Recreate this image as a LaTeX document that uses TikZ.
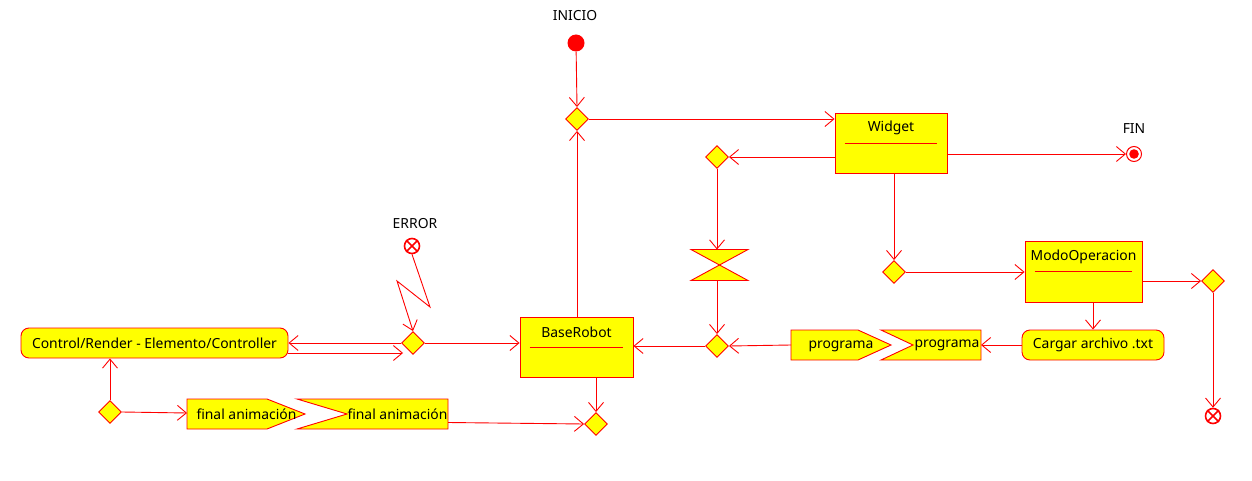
\documentclass[tikz,border=0pt]{standalone}
\usepackage{fontspec}
\setmainfont{Noto Sans}
\usetikzlibrary{arrows.meta,shapes.geometric,calc}
\definecolor{yel}{RGB}{255,255,0}
\definecolor{rd}{RGB}{255,0,0}
\begin{document}
\begin{tikzpicture}[x=1pt,y=-1pt,
 line/.style={draw=rd,line width=0.9pt},
 arr/.style={line,-{Straight Barb[length=9pt,width=15pt,line width=0.9pt]}},
 dia/.style={diamond,draw=rd,fill=yel,line width=0.9pt,minimum size=23pt,inner sep=0pt},
 cls/.style={draw=rd,fill=yel,line width=0.9pt,inner sep=0pt},
 act/.style={draw=rd,fill=yel,rounded corners=8pt,line width=0.9pt,minimum height=30pt,inner sep=0pt},
 shp/.style={draw=rd,fill=yel,line width=0.9pt},
 fin/.style={circle,draw=rd,fill=white,line width=1.6pt,minimum size=15pt,inner sep=0pt},
 txt/.style={inner sep=0pt,text=black},
 font=\fontsize{13.9}{16}\selectfont
]
\useasboundingbox (0,0) rectangle (1252,481);

% start / labels
\node[txt] (inicio) at (575,16) {INICIO};
\node[circle,fill=rd,minimum size=17pt,inner sep=0pt] (start) at (576,43) {};
\node[txt] (fintxt) at (1134,129) {FIN};
\node[circle,draw=rd,fill=white,line width=1pt,minimum size=15pt,inner sep=0pt] (finc) at (1134,154) {};
\fill[rd] (finc.center) circle (4.8);
\node[txt] (errtxt) at (415,224) {ERROR};
\node[fin] (err) at (412,246) {};
\draw[rd,line width=1.6pt] (err.north west) -- (err.south east) (err.north east) -- (err.south west);
\node[fin] (endx) at (1213,416) {};
\draw[rd,line width=1.6pt] (endx.north west) -- (endx.south east) (endx.north east) -- (endx.south west);

% decision nodes
\node[dia] (d1) at (577,119) {};
\node[dia] (d2) at (717,157) {};
\node[dia] (d3) at (717,346) {};
\node[dia] (d4) at (894,272) {};
\node[dia] (d5) at (1213,281) {};
\node[dia] (d6) at (413,343) {};
\node[dia] (d7) at (110,412) {};
\node[dia] (d8) at (596,424) {};

% class boxes
\node[cls,minimum width=112pt,minimum height=60pt] (widget) at (891,143) {};
\node[txt] (widgetT) at (891,128) {Widget};
\draw[line] ($(widget.west)+(10,0)$) -- ($(widget.east)+(-10,0)$);
\node[cls,minimum width=113pt,minimum height=60pt] (base) at (576.5,347) {};
\node[txt] (baseT) at (576.5,332) {BaseRobot};
\draw[line] ($(base.west)+(10,0)$) -- ($(base.east)+(-10,0)$);
\node[cls,minimum width=117pt,minimum height=61pt] (modo) at (1083.5,271.5) {};
\node[txt] (modoT) at (1083.5,257) {ModoOperacion};
\draw[line] ($(modo.west)+(10,0)$) -- ($(modo.east)+(-10,0)$);

% activities
\node[act,minimum width=267pt] (ctrl) at (154.5,343) {Control/Render - Elemento/Controller};
\node[act,minimum width=142pt] (cargar) at (1093,345) {Cargar archivo .txt};

% hourglass
\draw[shp] (691,249.5) -- (748,249.5) -- (691,280.5) -- (748,280.5) -- cycle;
\coordinate (hgN) at (717,249.5);
\coordinate (hgS) at (717,280.5);

% signals: programa
\draw[shp] (791,330) -- (858,330) -- (891,345) -- (858,360) -- (791,360) -- cycle;
\node[txt] (sendP) at (841,346) {programa};
\coordinate (sendPw) at (791,345);
\draw[shp] (881,330) -- (981,330) -- (981,360) -- (881,360) -- (913,345) -- cycle;
\node[txt] (recvP) at (947,345) {programa};
\coordinate (recvPe) at (981,345);

% signals: final animacion
\draw[shp] (187,399) -- (267,399) -- (305,414) -- (267,429) -- (187,429) -- cycle;
\node[txt] (sendF) at (246.5,414) {final animación};
\coordinate (sendFw) at (187,413);
\draw[shp] (297,399) -- (448,399) -- (448,429) -- (297,429) -- (347,414) -- cycle;
\node[txt] (recvF) at (397.5,414) {final animación};
\coordinate (recvFe) at (448,422.5);

% connectors
\draw[arr] (start) -- (d1.north);
\draw[arr] (d1.east) -- (d1.east -| widget.west);
\draw[arr] (base.north -| d1) -- (d1.south);
\draw[arr] (widget.east |- finc) -- (finc.west);
\draw[arr] (widget.west |- d2) -- (d2.east);
\draw[arr] (d2.south) -- (hgN);
\draw[arr] (hgS) -- (d3.north);
\draw[arr] (d3.west) -- (d3.west -| base.east);
\draw[arr] (sendPw) -- (d3.east);
\draw[arr] (cargar.west) -- (recvPe);
\draw[arr] (widget.south -| d4) -- (d4.north);
\draw[arr] (d4.east) -- (d4.east -| modo.west);
\draw[arr] (modo.east |- d5) -- (d5.west);
\draw[arr] (d5.south) -- (endx.north);
\draw[arr] (modo.south -| cargar) -- (cargar.north);
\draw[arr] (d6.east) -- (d6.east -| base.west);
\draw[arr] (d6.west) -- (d6.west -| ctrl.east);
\coordinate (c6) at (403,353);
\draw[arr] (ctrl.east |- c6) -- (c6);
\draw[arr] (err.south) -- (430,307) -- (397,281) -- (d6.north);
\draw[arr] (d7.north) -- (d7.north |- ctrl.south);
\draw[arr] (d7.east) -- (sendFw);
\draw[arr] (recvFe) -- (d8.west);
\draw[arr] (base.south -| d8) -- (d8.north);
\end{tikzpicture}
\end{document}
